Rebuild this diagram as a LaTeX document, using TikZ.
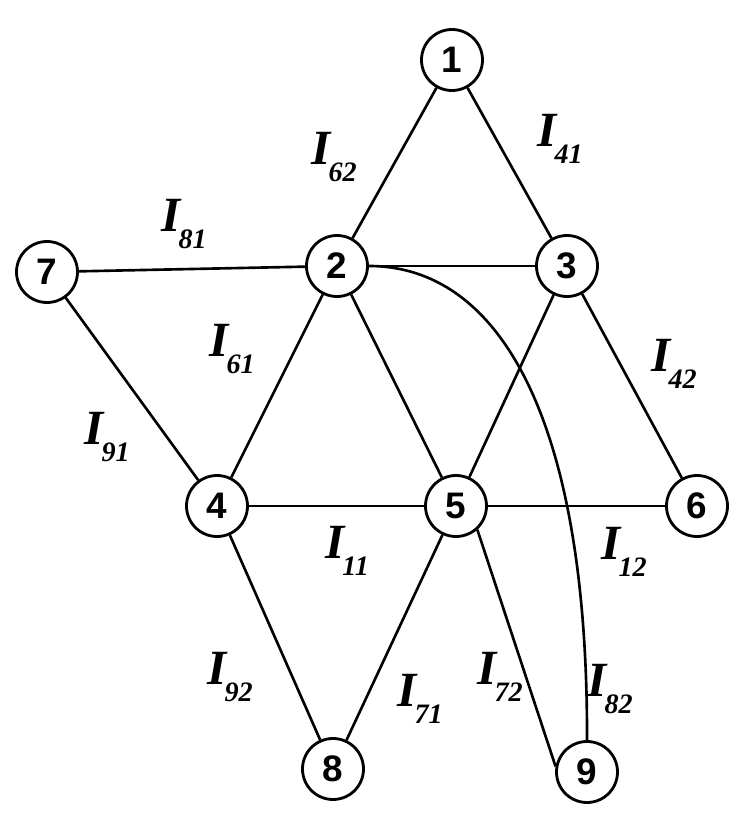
\documentclass[tikz,border=0pt]{standalone}
\usepackage{fontspec}
\setmainfont{Liberation Serif}
\newfontfamily\numfont{Liberation Sans}
\usetikzlibrary{positioning}
\tikzset{
  bus/.style={circle, draw=black, line width=1.6pt, fill=white, minimum size=1.22cm, inner sep=0pt,
    font=\numfont\fontsize{21}{21}\selectfont\bfseries},
  line/.style={draw=black, line width=1.5pt},
  cur/.style={inner sep=0pt, font=\bfseries\itshape}
}
\newcommand{\curr}[1]{{\fontsize{28}{28}\selectfont I}\kern-1pt\raisebox{-10pt}{\fontsize{16}{16}\selectfont #1}}

\begin{document}
\begin{tikzpicture}[x=1cm,y=1cm]
\path[use as bounding box] (0,0) rectangle (15,16.5);

% buses
\node[bus] (n1) at (9.04,15.30) {1};
\node[bus] (n2) at (6.74,11.18) {2};
\node[bus] (n3) at (11.34,11.18) {3};
\node[bus] (n7) at (0.94,11.06) {7};
\node[bus] (n4) at (4.34,6.38) {4};
\node[bus] (n5) at (9.12,6.38) {5};
\node[bus] (n6) at (13.94,6.38) {6};
\node[bus] (n8) at (6.66,1.12) {8};
\node[bus] (n9) at (11.74,1.06) {9};

% lines
\draw[line] (n1) -- (n2);
\draw[line] (n1) -- (n3);
\draw[line] (n7) -- (n2);
\draw[line] (n7) -- (n4);
\draw[line] (n2) -- (n3);
\draw[line] (n2) -- (n4);
\draw[line] (n2) -- (n5);
\draw[line] (n3) -- (n5);
\draw[line] (n3) -- (n6);
\draw[line] (n4) -- (n5);
\draw[line] (n5) -- (n6);
\draw[line] (n4) -- (n8);
\draw[line] (n5) -- (n8);
\draw[line] (n5.-48) -- (n9.170);
\draw[line] (n2.east) .. controls (10.0,11.18) and (11.76,8.1) .. (n9.north);

% currents
\node[cur] (i62) at (6.68,13.36) {\curr{62}};
\node[cur] (i41) at (11.20,13.72) {\curr{41}};
\node[cur] (i81) at (3.68,12.02) {\curr{81}};
\node[cur] (i61) at (4.64,9.52) {\curr{61}};
\node[cur] (i42) at (13.48,9.22) {\curr{42}};
\node[cur] (i91) at (2.14,7.76) {\curr{91}};
\node[cur] (i11) at (6.94,5.48) {\curr{11}};
\node[cur] (i12) at (12.48,5.46) {\curr{12}};
\node[cur] (i92) at (4.60,2.96) {\curr{92}};
\node[cur] (i71) at (8.40,2.52) {\curr{71}};
\node[cur] (i72) at (10.00,2.96) {\curr{72}};
\node[cur] (i82) at (12.20,2.72) {\curr{82}};
\end{tikzpicture}
\end{document}
